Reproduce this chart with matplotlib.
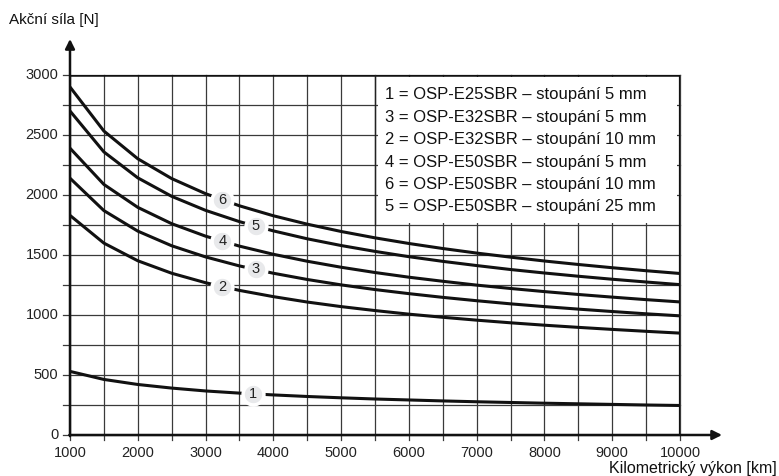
import matplotlib
matplotlib.use("Agg")
import matplotlib.pyplot as plt
from matplotlib.patches import Rectangle

plt.rcParams['font.family'] = ['Liberation Sans', 'DejaVu Sans']

km = [1000, 1500, 2000, 2500, 3000, 3500, 4000, 4500, 5000, 5500,
      6000, 6500, 7000, 7500, 8000, 8500, 9000, 9500, 10000]

force = {
    '6': [2900, 2533, 2302, 2137, 2011, 1910, 1827, 1757, 1696, 1643,
          1596, 1554, 1516, 1482, 1450, 1421, 1394, 1369, 1346],
    '5': [2700, 2359, 2143, 1989, 1872, 1778, 1701, 1635, 1579, 1530,
          1486, 1447, 1412, 1379, 1350, 1323, 1298, 1275, 1253],
    '4': [2390, 2088, 1897, 1761, 1657, 1574, 1506, 1448, 1398, 1354,
          1315, 1281, 1249, 1221, 1195, 1171, 1149, 1128, 1109],
    '3': [2140, 1870, 1699, 1577, 1484, 1409, 1348, 1296, 1251, 1212,
          1178, 1147, 1119, 1093, 1070, 1049, 1029, 1010, 993],
    '2': [1830, 1599, 1452, 1348, 1269, 1205, 1153, 1108, 1070, 1037,
          1007, 981, 957, 935, 915, 897, 880, 864, 849],
    '1': [530, 463, 421, 391, 367, 349, 334, 321, 310, 300,
          292, 284, 277, 271, 265, 260, 255, 250, 246],
}

# where the numbered circles sit on the curves
label_x = {'6': 3250, '5': 3740, '4': 3250, '3': 3740, '2': 3250, '1': 3700}

legend_lines = [
    '1 = OSP-E25SBR – stoupání 5 mm',
    '3 = OSP-E32SBR – stoupání 5 mm',
    '2 = OSP-E32SBR – stoupání 10 mm',
    '4 = OSP-E50SBR – stoupání 5 mm',
    '6 = OSP-E50SBR – stoupání 10 mm',
    '5 = OSP-E50SBR – stoupání 25 mm',
]

xticks = list(range(1000, 10001, 1000))
yticks = list(range(0, 3001, 500))

W, H = 779, 476
fig = plt.figure(figsize=(W / 100, H / 100), dpi=100)
ax = fig.add_axes([70 / W, 1 - 435 / H, 610 / W, 360 / H])
ax.set_xlim(1000, 10000)
ax.set_ylim(0, 3000)

for s in ax.spines.values():
    s.set_visible(False)

gc = '#3a3a3a'
for x in range(1000, 10001, 500):
    ax.plot([x, x], [-42, 3000], color=gc, lw=0.9, clip_on=False, zorder=1)
for y in range(0, 3001, 250):
    ax.plot([895, 10000], [y, y], color=gc, lw=0.9, clip_on=False, zorder=1)

# legend box covers the grid
ax.add_patch(Rectangle((5540, 1765), 4420, 1220, facecolor='white',
                       edgecolor='none', zorder=2))

# frame
ax.plot([1000, 10000], [3000, 3000], color='#111111', lw=1.8, zorder=3)
ax.plot([10000, 10000], [0, 3000], color='#111111', lw=1.6, zorder=3)
ax.plot([5500, 5500], [1750, 3000], color='#222222', lw=1.0, zorder=3)

# axes with arrows
ax.annotate('', xy=(1000, 3300), xytext=(1000, -10),
            arrowprops=dict(arrowstyle='-|>', color='#111111', lw=1.8,
                            mutation_scale=14, shrinkA=0, shrinkB=0),
            annotation_clip=False, zorder=4)
ax.annotate('', xy=(10620, 0), xytext=(990, 0),
            arrowprops=dict(arrowstyle='-|>', color='#111111', lw=1.8,
                            mutation_scale=14, shrinkA=0, shrinkB=0),
            annotation_clip=False, zorder=4)

ax.set_xticks([])
ax.set_yticks([])
for x in xticks:
    ax.text(x, -95, str(x), ha='center', va='top', fontsize=10.5, color='#222222')
for y in yticks:
    ax.text(830, y, str(y), ha='right', va='center', fontsize=10.5, color='#222222')

for key, vals in force.items():
    ax.plot(km, vals, color='#111111', lw=2.2, zorder=5, solid_capstyle='butt')
    lx = label_x[key]
    i = km.index(lx - lx % 500)
    x0, x1 = km[i], km[i + 1]
    ly = vals[i] + (vals[i + 1] - vals[i]) * (lx - x0) / (x1 - x0)
    ax.plot(lx, ly, 'o', ms=15, mfc='#e8e9eb', mec='white', mew=2.5, zorder=6)
    ax.text(lx, ly, key, ha='center', va='center', fontsize=10.5,
            color='#222222', zorder=7)

for i, line in enumerate(legend_lines):
    fig.text(385 / W, 1 - (95 + 22.4 * i) / H, line, ha='left', va='center',
             fontsize=12, color='#111111')

fig.text(9 / W, 1 - 20 / H, 'Akční síla [N]', ha='left', va='center',
         fontsize=11, color='#111111')
fig.text(777 / W, 1 - 469 / H, 'Kilometrický výkon [km]', ha='right',
         va='center', fontsize=11.5, color='#111111')

fig.savefig('out.png', dpi=100)
